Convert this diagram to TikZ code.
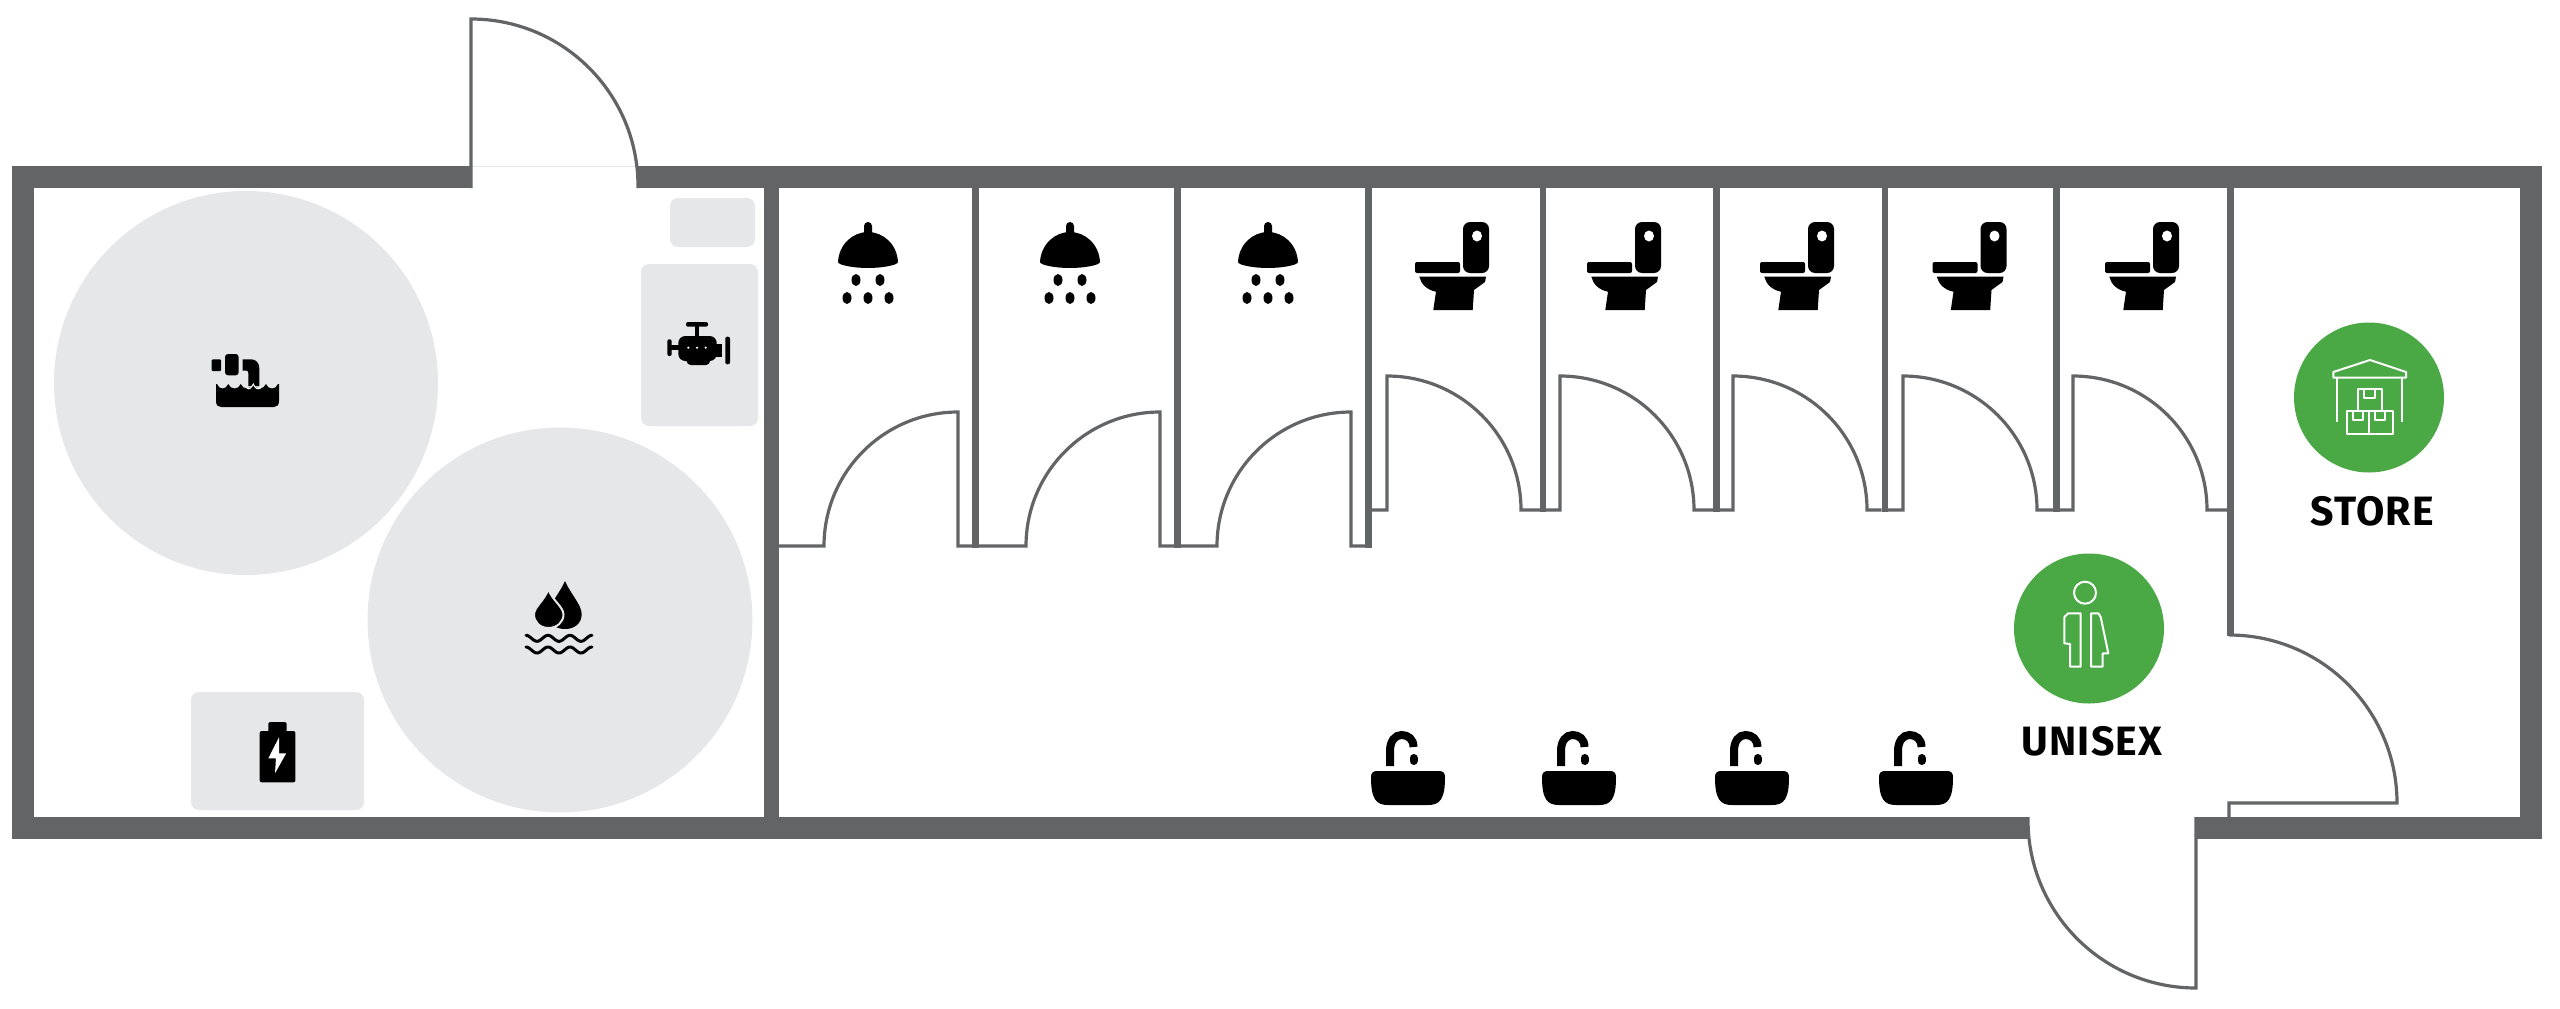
\documentclass[tikz,border=0pt]{standalone}
\usepackage{fontspec}
\newfontfamily\labelfont[LetterSpace=3]{Fira Sans}

\definecolor{wallgrey}{HTML}{636466}
\definecolor{padgrey}{HTML}{E6E7E8}
\definecolor{signgreen}{HTML}{4AA945}

\tikzset{
    wallfill/.style={fill=wallgrey},
    doorline/.style={draw=wallgrey, line width=3.2pt, line join=miter},
    padfill/.style={fill=padgrey, rounded corners=8pt},
    signline/.style={draw=white, line width=2pt, line join=round},
    roomlabel/.style={font=\labelfont\bfseries\fontsize{41}{41}\selectfont, inner sep=0pt},
    showerhead/.pic={
        \fill[rounded corners=4pt] (-4,20) -- (-4,0) -- (4,0) -- (4,20) -- cycle;
        \fill (-30,40) .. controls (-29,22) and (-15,10) .. (0,10) .. controls (15,10) and (29,22) .. (30,40)
            .. controls (30,43) and (15,46) .. (0,46) .. controls (-15,46) and (-30,43) .. (-30,40) -- cycle;
        \foreach \dx in {-12,12}
            \fill (\dx,58) ellipse [x radius=4.5, y radius=6];
        \foreach \dx in {-21,0,21}
            \fill (\dx,76) ellipse [x radius=4.5, y radius=6];
    },
    toiletbowl/.pic={
        \fill[rounded corners=7pt] (48,0) rectangle (74,51);
        \fill[white] (62,14) ellipse [x radius=5, y radius=5.5];
        \fill[rounded corners=2pt] (0,40) rectangle (45,51);
        \fill (4.3,54.7) -- (71,54.7) -- (70,60) -- (59,68) -- (57.7,88) -- (18.3,88) -- (21,69.7)
            .. controls (12,68) and (6,62) .. (4.3,54.7) -- cycle;
    },
    washbasin/.pic={
        \fill (-37,6) .. controls (-37,2) and (-35,0) .. (-31,0) -- (31,0) .. controls (35,0) and (37,2) .. (37,6)
            .. controls (37,28) and (32,34) .. (20,34) -- (-20,34) .. controls (-32,34) and (-37,28) .. (-37,6) -- cycle;
        \draw[line width=8pt] (-18,-5) -- (-18,-20) .. controls (-18,-30) and (-13,-36) .. (-6.5,-36)
            .. controls (0,-36) and (5.5,-32) .. (5.5,-24);
        \draw[line width=8pt, line cap=round] (5.5,-13) -- (5.5,-10);
    },
}

\begin{document}
\begin{tikzpicture}[x=1pt, y=1pt, yscale=-1]

    \useasboundingbox (0,0) rectangle (2560,1009);

    %% Equipment room
    % Tanks
    \fill[padgrey] (246,383) circle (192);
    \fill[padgrey] (560,620) circle (192.5);

    % Pads
    \fill[padfill] (670,198) rectangle (755,247);
    \fill[padfill] (641,264) rectangle (758,426);
    \fill[padfill] (191,692) rectangle (364,810);

    % Water heater
    \fill[rounded corners=1pt] (211.7,359.3) rectangle (221,371);
    \fill[rounded corners=3pt] (225,354) rectangle (238.7,375.3);
    \fill (242.7,359.3) -- (251,359.3) .. controls (256,359.3) and (259.3,363) .. (259.3,368.3) -- (259.3,386)
        -- (248.3,386) -- (248.3,373) .. controls (248.3,371.5) and (247.5,370.7) .. (246.7,370.7) -- (242.7,370.7) -- cycle;
    \fill (216,384) -- (217,384) .. controls (219,390) and (226,390) .. (228.3,384)
        .. controls (230.5,390) and (238.5,390) .. (240.7,384)
        .. controls (243,390) and (251,390) .. (253.3,384)
        .. controls (255.5,390) and (263.5,390) .. (266,384)
        .. controls (268,390) and (276,390) .. (278,384) -- (279,384) -- (279,401)
        .. controls (279,405) and (277,407) .. (274,407) -- (221,407) .. controls (218,407) and (216,405) .. (216,401) -- cycle;
    \draw[white, line width=1pt] (247,388) .. controls (249,390) and (251.5,388) .. (253.3,384) .. controls (255,388) and (257,390) .. (261,388);

    % Engine
    \fill[rounded corners=2pt] (686,322) rectangle (708,326.7);
    \fill (695,326) rectangle (699.3,338.3);
    \fill[rounded corners=7pt] (678.3,336) rectangle (716.7,361);
    \fill[rounded corners=4pt] (686.7,350) rectangle (710,365);
    \fill (716,344) rectangle (722.3,356.7);
    \fill[rounded corners=2pt] (667.3,339.3) rectangle (671.7,356);
    \fill (671,345.3) rectangle (679,350);
    \fill[rounded corners=2pt] (725.3,336.7) rectangle (730,364.3);
    \foreach \dotx in {688.3,697,705.7}
        \fill[white] (\dotx,347.7) circle (1.2);

    % Water drops
    \fill (565,581) .. controls (570,593) and (581.7,605) .. (581.7,614) .. controls (581.7,623) and (575,629) .. (565,629)
        .. controls (555,629) and (548.3,623) .. (548.3,614) .. controls (548.3,605) and (560,593) .. (565,581) -- cycle;
    \filldraw[draw=padgrey, line width=2pt] (548.3,589) .. controls (552,600) and (563.5,607) .. (563.5,614.5)
        .. controls (563.5,622) and (557,628) .. (548.3,628) .. controls (540,628) and (534,622) .. (534,614.5)
        .. controls (534,607) and (545,600) .. (548.3,589) -- cycle;
    \foreach \wavey in {638.3,650}
        \draw[line width=3pt, line cap=round] plot[domain=0:66,samples=60,smooth] ({526+\x},{\wavey-3*cos(16.3636*\x)});

    % Battery
    \fill[rounded corners=1.5pt] (268.4,722) rectangle (286.7,734);
    \fill[rounded corners=2pt] (259.7,731) rectangle (295.4,782.3);
    \fill[white] (279,737.3) -- (268.4,758.3) -- (276,758.3) -- (275,773.3) -- (286.2,753.3) -- (279,753.3) -- cycle;

    %% Walls
    \fill[wallfill] (12,166) rectangle (472,188);
    \fill[wallfill] (638,166) rectangle (2542,188);
    \fill[wallfill] (12,817) rectangle (2028,839);
    \fill[wallfill] (2195,817) rectangle (2542,839);
    \fill[wallfill] (12,166) rectangle (34,839);
    \fill[wallfill] (2520,166) rectangle (2542,839);
    \fill[wallfill] (764,166) rectangle (779,839);
    \draw[padgrey, line width=1pt] (472,166.5) -- (638,166.5);

    % Partitions
    \foreach \xa/\xb/\yb in {972/978.5/547.5, 1173.5/1180.5/547.5, 1365/1372/547.5,
        1540/1546/511.5, 1713/1720/511.5, 1881.5/1888/511.5, 2053/2060/511.5, 2227/2234/636}
        \fill[wallfill] (\xa,188) rectangle (\xb,\yb);

    %% Doors
    % Entrances
    \draw[doorline] (471,188) -- (471,19) arc[start angle=270, end angle=360, radius=167] -- (638,188);
    \draw[doorline] (2196,817) -- (2196,988) arc[start angle=90, end angle=180, radius=168] -- (2028,817);
    \draw[doorline] (2229,817) -- (2229,803) -- (2397,803) arc[start angle=0, end angle=-90, radius=168];

    % Shower doors
    \foreach \xa/\xb/\xc/\xd in {778/824/958/972, 978/1026/1160/1174, 1180/1217/1351/1365}
        \draw[doorline] (\xa,546) -- (\xb,546) arc[start angle=180, end angle=270, radius=134] -- (\xc,546) -- (\xd,546);

    % Toilet doors
    \foreach \xa/\xb/\xc/\xd in {1372/1387/1521/1540, 1546/1560/1694/1713, 1720/1733/1867/1881.5,
        1888/1903/2037/2053, 2060/2073/2207/2227}
        \draw[doorline] (\xa,510) -- (\xb,510) -- (\xb,376) arc[start angle=270, end angle=360, radius=134] -- (\xd,510);

    %% Fixtures
    \foreach \showerx in {868,1070,1268}
        \pic[transform shape] at (\showerx,222) {showerhead};
    \foreach \toiletx in {1415,1587,1760,1932.5,2105}
        \pic[transform shape] at (\toiletx,222) {toiletbowl};
    \foreach \basinx in {1408,1579,1752,1916}
        \pic[transform shape] at (\basinx,771) {washbasin};

    %% Store sign
    \fill[signgreen] (2369,397.5) circle (75);
    \draw[signline] (2370,360) -- (2406,372) -- (2406,377.7) -- (2333.3,377.7) -- (2333.3,372) -- cycle;
    \draw[signline] (2336.7,377.7) -- (2336.7,421.7);
    \draw[signline] (2401.7,377.7) -- (2401.7,421.7);
    \draw[signline] (2357.7,410.7) -- (2357.7,389) -- (2381.7,389) -- (2381.7,410.7);
    \draw[signline] (2364.3,389) -- (2364.3,398.3) -- (2375,398.3) -- (2375,389);
    \draw[signline] (2346.7,410.7) rectangle (2392.7,434.3);
    \draw[signline] (2369,410.7) -- (2369,434.3);
    \draw[signline] (2353.3,410.7) -- (2353.3,420) -- (2363.3,420) -- (2363.3,410.7);
    \draw[signline] (2375,410.7) -- (2375,420) -- (2385,420) -- (2385,410.7);
    \node[roomlabel] (storelabel) at (2372,511) {STORE};

    %% Unisex sign
    \fill[signgreen] (2089,628.5) circle (75);
    \draw[signline] (2085,592.7) circle (11);
    \draw[signline] (2080.7,613.3) -- (2068.3,613.3) -- (2064.3,617) -- (2064.3,643.3) -- (2070,644) -- (2070,666.7) -- (2080.7,666.7) -- cycle;
    \draw[signline] (2091,613.3) -- (2098.3,613.3) -- (2100.7,617) -- (2108.3,653.3) -- (2102.7,653.3) -- (2102.7,666.7) -- (2091,666.7) -- cycle;
    \node[roomlabel] (unisexlabel) at (2092,741) {UNISEX};

\end{tikzpicture}
\end{document}
